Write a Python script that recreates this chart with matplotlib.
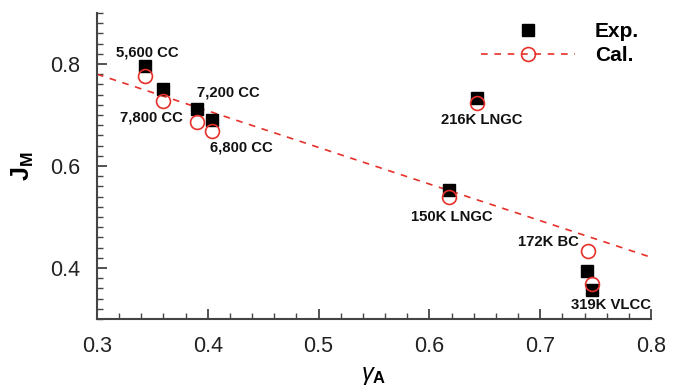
import matplotlib
matplotlib.use('Agg')
import matplotlib.pyplot as plt
from matplotlib.lines import Line2D
from matplotlib.ticker import MultipleLocator

# data
ships = ['5,600 CC', '7,800 CC', '7,200 CC', '6,800 CC',
         '216K LNGC', '150K LNGC', '172K BC', '319K VLCC']
gamma_a = [0.343, 0.360, 0.390, 0.404, 0.643, 0.618, 0.742, 0.747]
jm_exp = [0.796, 0.751, 0.711, 0.691, 0.734, 0.552, 0.394, 0.357]
gamma_cal = [0.343, 0.360, 0.390, 0.404, 0.643, 0.618, 0.743, 0.747]
jm_cal = [0.777, 0.728, 0.686, 0.669, 0.723, 0.539, 0.433, 0.368]

# fitted line (end points)
fit_x = [0.3, 0.8]
fit_y = [0.780, 0.421]

# label offsets from the Exp. point, in points
label_offsets = [(2, 9.6), (-9, -20.7), (23, 12.2), (21, -20),
                 (3.6, -16), (1.7, -19.2), (-27.7, 20.9), (13.5, -10.5)]

plt.rcParams['font.family'] = ['Liberation Sans', 'DejaVu Sans']
plt.rcParams['mathtext.fontset'] = 'custom'
plt.rcParams['mathtext.rm'] = 'Liberation Sans'
plt.rcParams['mathtext.it'] = 'Liberation Sans:italic'
plt.rcParams['mathtext.bf'] = 'Liberation Sans:bold'

fig = plt.figure(figsize=(6.81, 3.86), dpi=100)
ax = fig.add_axes([0.1424, 0.1736, 0.8136, 0.7927])

red = '#e8302a'
ax.plot(fit_x, fit_y, '--', color=red, linewidth=1.2, dashes=(4, 4))
ax.plot(gamma_a, jm_exp, 's', color='black', markersize=9, linestyle='none')
ax.plot(gamma_cal, jm_cal, 'o', markerfacecolor='none', markeredgecolor=red,
        markeredgewidth=1.2, markersize=10, linestyle='none')

for name, x, y, off in zip(ships, gamma_a, jm_exp, label_offsets):
    ax.annotate(name, (x, y), xytext=off, textcoords='offset points',
                ha='center', va='center', fontsize=10.7, fontweight='bold',
                color='#111111')

ax.set_xlim(0.3, 0.8)
ax.set_ylim(0.3, 0.9)
ax.xaxis.set_major_locator(MultipleLocator(0.1))
ax.xaxis.set_minor_locator(MultipleLocator(0.02))
ax.yaxis.set_major_locator(MultipleLocator(0.2))
ax.yaxis.set_minor_locator(MultipleLocator(0.02))
ax.set_yticks([0.4, 0.6, 0.8])

for s in ['top', 'right']:
    ax.spines[s].set_visible(False)
for s in ['left', 'bottom']:
    ax.spines[s].set_color('#444444')
    ax.spines[s].set_linewidth(1.5)

ax.tick_params(which='both', direction='in', color='#444444', labelcolor='#222222')
ax.tick_params(which='major', length=7, width=1.3, labelsize=15.5, pad=12)
ax.tick_params(which='minor', length=4, width=1.0)

ax.set_xlabel(r'$\gamma_{\mathbf{A}}$', fontsize=17, labelpad=6)
ax.set_ylabel(r'$\mathbf{J_M}$', fontsize=18, labelpad=10)

handles = [
    Line2D([], [], marker='s', color='black', markersize=9, linestyle='none'),
    Line2D([], [], marker='o', color=red, markerfacecolor='none',
           markeredgewidth=1.2, markersize=10, linestyle='--', dashes=(4, 4),
           linewidth=1.2),
]
ax.legend(handles, ['Exp.', 'Cal.'], loc='upper left', frameon=False,
          bbox_to_anchor=(0.694, 0.97), borderpad=0, borderaxespad=0,
          prop={'size': 15, 'weight': 'bold'},
          handlelength=4.5, handletextpad=0.95, labelspacing=0.25)

fig.savefig('out.png', dpi=100)
